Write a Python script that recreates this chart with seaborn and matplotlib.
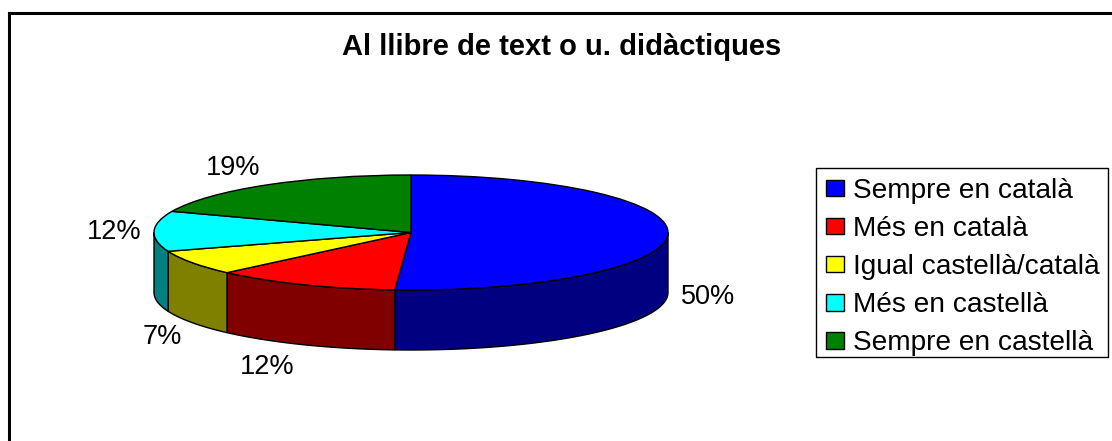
import numpy as np
import matplotlib
matplotlib.use("Agg")
import matplotlib.pyplot as plt
from matplotlib.patches import Rectangle
import seaborn as sns

# values, the printed labels are rounded differently
categories = ["Sempre en català", "Més en català", "Igual castellà/català", "Més en castellà", "Sempre en castellà"]
values = [51.0, 11.7, 7.0, 11.3, 19.0]
pct_labels = ["50%", "12%", "7%", "12%", "19%"]
top_colors = ["#0000ff", "#ff0000", "#ffff00", "#00ffff", "#008000"]
wall_colors = ["#000080", "#800000", "#808000", "#008080", "#004000"]
title = "Al llibre de text o u. didàctiques"

# pixel layout of the picture
W, H = 1112, 441
LEFT, TOP = 9, 13
CX, CY = 411, 232.5
RX, RY = 257, 57.5
DEPTH = 60
label_px = [(708, 297), (267, 367), (162, 337), (114, 232), (233, 168)]

sns.set_theme(style="white")
plt.rcParams["font.family"] = ["Liberation Sans", "DejaVu Sans"]

fig = plt.figure(figsize=(W / 100, H / 100), dpi=100)
ax = fig.add_axes([LEFT / W, 0, 1 - LEFT / W, 1 - TOP / H])


def to_data(px, py):
    return (px - CX) / RX, (CY - py) / RY


d = DEPTH / RY
bounds = np.cumsum([0] + values) / sum(values) * 2 * np.pi
# side wall of the disc, only the front half (clockwise angle from top) shows
for i in range(len(values)):
    a0 = max(bounds[i], np.pi / 2)
    a1 = min(bounds[i + 1], 3 * np.pi / 2)
    if a1 <= a0:
        continue
    t = np.linspace(a0, a1, 80)
    x = np.sin(t)
    y = np.cos(t)
    ax.fill(np.r_[x, x[::-1]], np.r_[y, y[::-1] - d], facecolor=wall_colors[i],
            edgecolor="black", linewidth=1, zorder=1)

wedges, _ = ax.pie(values, colors=top_colors, startangle=90, counterclock=False,
                   radius=1, wedgeprops=dict(edgecolor="black", linewidth=1, zorder=2))

ax.set_aspect("auto")
ax.set_frame_on(True)
x0, _ = to_data(LEFT, 0)
x1, _ = to_data(W, 0)
_, y1 = to_data(0, TOP)
_, y0 = to_data(0, H)
ax.set_xlim(x0, x1)
ax.set_ylim(y0, y1)
ax.set_xticks([])
ax.set_yticks([])
sns.despine(ax=ax, top=False, right=True, left=False, bottom=True)
for side in ["top", "left"]:
    ax.spines[side].set_color("black")
    ax.spines[side].set_linewidth(2.2)

for lab, (px, py) in zip(pct_labels, label_px):
    lx, ly = to_data(px, py)
    ax.text(lx, ly, lab, ha="center", va="center", fontsize=19.5, color="black")

tx, ty = to_data(562, 47)
ax.text(tx, ty, title, ha="center", va="center", fontsize=21, fontweight="bold", color="black")

# legend box drawn apart so its padding can differ per side
fig.add_artist(Rectangle((816 / W, 1 - 357 / H), 292 / W, 189 / H, transform=fig.transFigure,
                         facecolor="white", edgecolor="black", linewidth=1))
leg = fig.legend(wedges, categories, loc="upper left", bbox_to_anchor=(826 / W, 1 - 178 / H),
                 frameon=False, fontsize=20.2, labelcolor="black", handlelength=0.64,
                 handleheight=0.53, handletextpad=0.32, labelspacing=0.43,
                 borderpad=0, borderaxespad=0)
leg.set_zorder(5)

fig.savefig("out.png", dpi=100)
